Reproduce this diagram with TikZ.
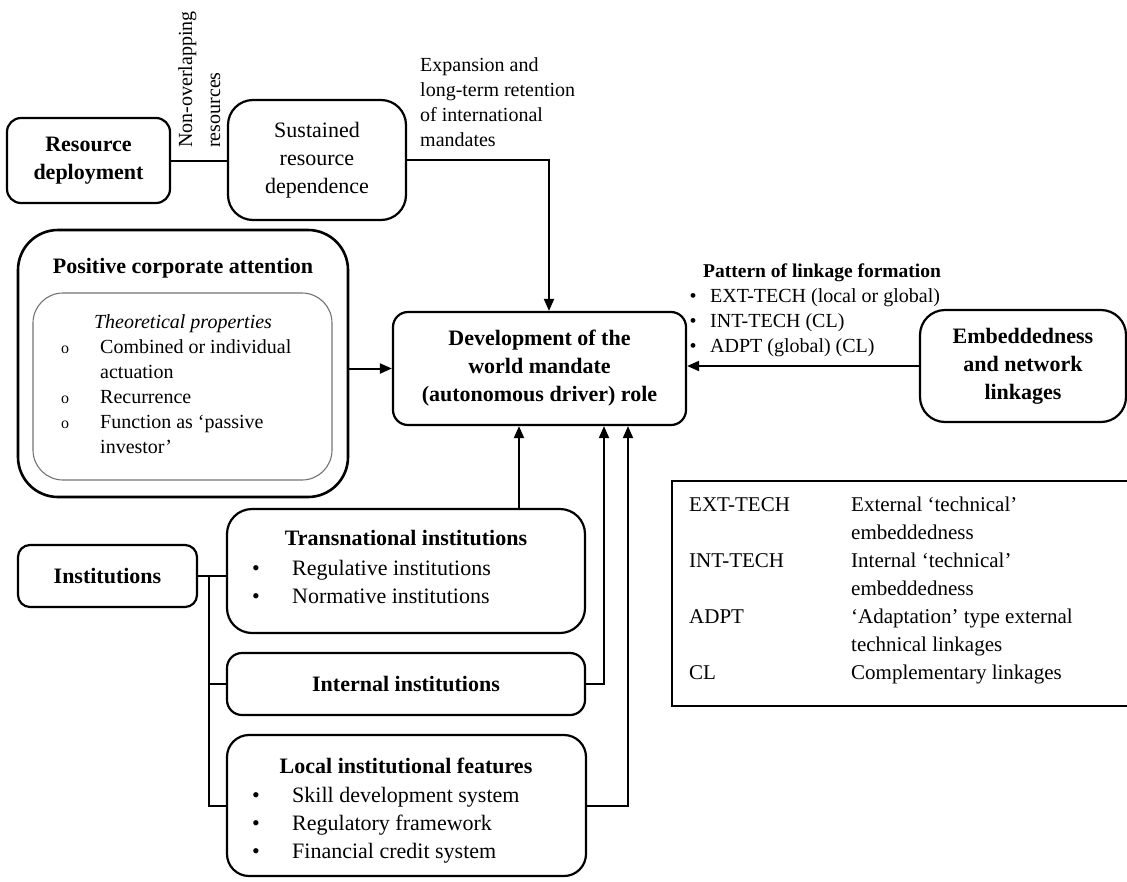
\documentclass[tikz,border=0pt]{standalone}
\usepackage{fontspec}
\setmainfont{Liberation Serif}
\usetikzlibrary{arrows.meta}
\begin{document}
\begin{tikzpicture}[x=1pt,y=-1pt,
  bx/.style={draw,line width=2.2pt,rounded corners=#1,inner sep=0pt,align=center},
  bx/.default=15pt,
  bf/.style={font=\fontsize{22}{28}\selectfont\bfseries},
  rm/.style={font=\fontsize{22}{28}\selectfont},
  sm/.style={font=\fontsize{20}{25}\selectfont,inner sep=0pt},
  mid/.style={font=\fontsize{22}{28}\selectfont,inner sep=0pt,anchor=base west},
  lg/.style={font=\fontsize{21}{28}\selectfont,inner sep=0pt,anchor=base west},
  ln/.style={line width=2pt},
  arr/.style={line width=2pt,-{Triangle[length=12pt,width=10pt]}},
]
\useasboundingbox (0,0) rectangle (1127,881);

% ---------- top row ----------
\node[bx=14pt,bf,minimum width=163,minimum height=85] (res) at (88.5,160.5) {Resource\\deployment};
\node[bx=25pt,rm,minimum width=178,minimum height=120] (sus) at (317,160) {Sustained\\resource\\dependence};
\node[sm,font=\fontsize{20}{28}\selectfont,rotate=90,anchor=north west,align=left] (nov) at (178,148) {Non-overlapping\\resources};
\node[sm,anchor=north west,align=left] (exp) at (420,57.3) {Expansion and\\long-term retention\\of international\\mandates};

% ---------- central ----------
\node[bx=15pt,bf,minimum width=293,minimum height=113] (dev) at (539.5,368.5) {Development of the\\world mandate\\(autonomous driver) role};
\node[bx=25pt,bf,minimum width=206,minimum height=112] (emb) at (1023,366) {Embeddedness\\and network\\linkages};

% pattern of linkage formation
\node[inner sep=0pt,anchor=base west,font=\fontsize{19.5}{25}\selectfont\bfseries] (pat) at (703,277) {Pattern of linkage formation};
\node[sm,anchor=base] (pb1) at (693,302) {•};
\node[sm,anchor=base west] (pt1) at (710,302) {EXT-TECH (local or global)};
\node[sm,anchor=base] (pb2) at (693,327) {•};
\node[sm,anchor=base west] (pt2) at (710,327) {INT-TECH (CL)};
\node[sm,anchor=base] (pb3) at (693,352) {•};
\node[sm,anchor=base west] (pt3) at (710,352) {ADPT (global) (CL)};

% ---------- positive corporate attention ----------
\node[bx=40pt,line width=2.6pt,minimum width=330,minimum height=267] (pos) at (183,363.5) {};
\node[draw=black!55,line width=1.1pt,rounded corners=30pt,inner sep=0pt,minimum width=299,minimum height=187] (tp) at (182.5,386.5) {};
\node[bf,inner sep=0pt,anchor=base] (post) at (183,273) {Positive corporate attention};
\node[sm,font=\fontsize{20}{25}\selectfont\itshape,anchor=base] (tpt) at (183,328) {Theoretical properties};
\node[sm,anchor=base,font=\fontsize{16}{20}\selectfont] (o1) at (65,353) {o};
\node[sm,anchor=base west] (c1) at (100,353) {Combined or individual};
\node[sm,anchor=base west] (c2) at (100,378) {actuation};
\node[sm,anchor=base,font=\fontsize{16}{20}\selectfont] (o2) at (65,403) {o};
\node[sm,anchor=base west] (c3) at (100,403) {Recurrence};
\node[sm,anchor=base,font=\fontsize{16}{20}\selectfont] (o3) at (65,428) {o};
\node[sm,anchor=base west] (c4) at (100,428) {Function as ‘passive};
\node[sm,anchor=base west] (c5) at (100,453) {investor’};

% ---------- institutions ----------
\node[bx=12pt,bf,minimum width=179,minimum height=62] (inst) at (107.5,576) {Institutions};
\node[bx=25pt,minimum width=358,minimum height=124] (trans) at (406,571) {};
\node[bf,inner sep=0pt,anchor=base] (transt) at (406,545) {Transnational institutions};
\node[mid,anchor=base] (tb1) at (256,575) {•};
\node[mid] (tt1) at (292,575) {Regulative institutions};
\node[mid,anchor=base] (tb2) at (256,603) {•};
\node[mid] (tt2) at (292,603) {Normative institutions};

\node[bx=15pt,bf,minimum width=358,minimum height=62] (intl) at (406,684) {Internal institutions};

\node[bx=22pt,minimum width=359,minimum height=141] (loc) at (406.5,805.5) {};
\node[bf,inner sep=0pt,anchor=base] (loct) at (406,773) {Local institutional features};
\node[mid,anchor=base] (lb1) at (256,802) {•};
\node[mid] (lt1) at (292,802) {Skill development system};
\node[mid,anchor=base] (lb2) at (256,830) {•};
\node[mid] (lt2) at (292,830) {Regulatory framework};
\node[mid,anchor=base] (lb3) at (256,858) {•};
\node[mid] (lt3) at (292,858) {Financial credit system};

% ---------- legend ----------
\node[draw,line width=1.5pt,inner sep=0pt,minimum width=480,minimum height=225,anchor=north west] (leg) at (671,480) {};
\node[lg] (l1a) at (689,511) {EXT-TECH};
\node[lg] (l1b) at (851,511) {External ‘technical’};
\node[lg] (l1c) at (851,539) {embeddedness};
\node[lg] (l2a) at (689,567) {INT-TECH};
\node[lg] (l2b) at (851,567) {Internal ‘technical’};
\node[lg] (l2c) at (851,595) {embeddedness};
\node[lg] (l3a) at (689,623) {ADPT};
\node[lg] (l3b) at (851,623) {‘Adaptation’ type external};
\node[lg] (l3c) at (851,651) {technical linkages};
\node[lg] (l4a) at (689,679) {CL};
\node[lg] (l4b) at (851,679) {Complementary linkages};

% ---------- connectors ----------
\coordinate (a1) at (519,0);
\coordinate (a2) at (604,0);
\coordinate (a3) at (628,0);
\coordinate (tr) at (209,0);

\draw[ln] (res.east) -- (res.east -| sus.west);
\draw[arr] (sus.east) -| ([xshift=9.5pt]dev.north);
\draw[arr] (dev.west -| pos.east) -- (dev.west);
\draw[arr] (emb.west) -- (emb.west -| dev.east);
\draw[arr] (trans.north -| a1) -- (dev.south -| a1);
\draw[arr] (intl.east) -| (dev.south -| a2);
\draw[arr] (loc.east) -| (dev.south -| a3);
\draw[ln] (inst.east) -- (inst.east -| trans.west);
\draw[ln] (inst.east -| tr) |- (loc.west);
\draw[ln] (tr |- intl.west) -- (intl.west);
\end{tikzpicture}
\end{document}
